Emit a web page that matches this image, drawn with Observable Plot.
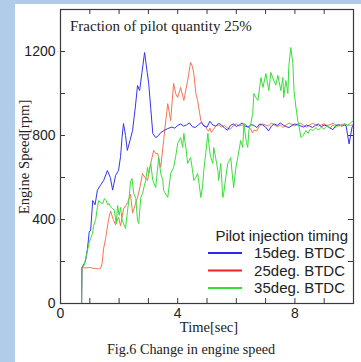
<!DOCTYPE html>
<html>
<head>
<meta charset="utf-8">
<script src="https://cdn.jsdelivr.net/npm/d3@7"></script>
<script src="https://cdn.jsdelivr.net/npm/@observablehq/plot@0.6"></script>
<style>
  html, body { margin: 0; padding: 0; }
  body { width: 361px; height: 362px; background: #b0cce8; overflow: hidden; position: relative; }
  #chart { position: absolute; left: 15px; top: 4px; width: 346px; height: 358px; background: #fff; }
  #chart svg { display: block; }
</style>
</head>
<body>
<div id="chart"></div>
<script>
// ---------- data ----------
const seriesNames = ["15deg. BTDC", "25deg. BTDC", "35deg. BTDC"];
const title = "Fraction of pilot quantity 25%";
const yTitle = "Engine Speed[rpm]";
const xTitle = "Time[sec]";
const caption = "Fig.6 Change in engine speed";
const legendTitle = "Pilot injection timing";
const xTickLabels = [0, 4, 8];
const xTickMarks = [0, 1, 2, 3, 4, 5, 6, 7, 8, 9, 10];
const yTickLabels = [0, 400, 800, 1200];
const yTickMarks = [0, 200, 400, 600, 800, 1000, 1200, 1400];

const blueT = [0,0.72,0.73,0.85,0.92,0.98,1.03,1.1,1.18,1.26,1.35,1.47,1.6,1.7,1.78,1.88,1.98,2.05,2.1,2.15,2.22,2.28,2.38,2.46,2.55,2.63,2.7,2.78,2.87,2.96,3.01,3.08,3.15,3.25,3.35,3.42,3.55,3.66,3.8,3.9,4.0,
  4.1,4.2,4.3,4.4,4.5,4.6,4.7,4.8,4.9,5.0,5.1,5.2,5.3,5.4,5.5,5.6,5.7,5.8,5.9,6.0,6.1,6.2,6.3,6.4,6.5,6.6,6.7,6.8,6.9,7.0,7.1,7.2,7.3,7.4,7.5,7.6,7.7,7.8,7.9,8.0,8.1,8.2,8.3,8.4,8.5,8.6,8.7,8.8,8.9,9.0,9.1,9.2,9.3,9.4,9.5,9.6,9.7,9.75,9.8,9.85,9.9,9.95,10];
const blueRpm = [0,0,170,200,260,340,350,490,470,540,560,585,633,600,540,610,633,700,790,857,800,729,780,824,930,1038,1014,1100,1195,1100,1048,930,810,790,800,814,825,833,840,835,848,
  855,845,850,860,842,838,850,862,845,840,868,850,845,858,850,835,825,848,855,843,850,860,845,840,852,848,838,855,850,840,822,845,855,848,860,850,842,838,848,855,850,845,840,850,845,838,848,855,842,850,845,835,828,848,852,845,850,845,800,760,800,840,850];

const redT = [0,0.72,0.73,0.9,1.0,1.1,1.2,1.3,1.37,1.42,1.47,1.54,1.64,1.71,1.8,1.88,1.98,2.05,2.15,2.29,2.39,2.46,2.55,2.63,2.72,2.8,2.88,2.97,3.08,3.18,3.25,3.32,3.42,3.52,3.6,3.66,3.76,3.86,3.93,4.0,4.1,4.21,4.34,4.44,4.5,4.55,4.62,4.68,4.79,4.89,
  4.95,5.0,5.05,5.1,5.15,5.2,5.3,5.4,5.5,5.6,5.7,5.8,5.9,6.0,6.1,6.2,6.3,6.4,6.5,6.55,6.6,6.7,6.8,6.9,7.0,7.1,7.2,7.3,7.4,7.5,7.6,7.7,7.8,7.9,8.0,8.1,8.2,8.3,8.4,8.5,8.6,8.7,8.8,8.9,9.0,9.1,9.2,9.3,9.4,9.5,9.6,9.7,9.8,9.9,10];
const redRpm = [0,0,170,170,172,168,166,165,168,190,260,310,400,440,400,375,410,370,450,480,520,430,470,505,560,619,600,586,667,729,714,714,648,776,880,952,871,1048,1000,981,1029,967,1062,1148,1130,1095,1000,967,871,848,
  845,830,820,835,815,825,845,850,840,848,835,830,848,855,845,850,855,840,830,812,825,822,848,855,850,845,860,850,842,850,838,850,860,852,845,855,858,848,840,850,858,852,845,850,855,848,852,858,850,845,852,855,850,848,852];

const greenT = [0,0.72,0.73,0.8,0.87,0.92,0.98,1.03,1.09,1.13,1.2,1.26,1.3,1.37,1.44,1.5,1.56,1.61,1.66,1.71,1.78,1.84,1.9,1.95,2.0,2.05,2.1,2.15,2.22,2.28,2.34,2.39,2.44,2.5,2.57,2.63,2.67,2.74,2.8,2.86,2.91,2.97,3.01,3.08,3.15,3.25,3.35,3.42,3.49,3.52,3.6,3.66,3.76,3.86,3.93,4.0,4.1,4.17,4.21,4.28,4.34,4.44,4.5,4.55,4.62,4.68,4.74,4.79,4.85,4.89,4.96,5.03,5.06,5.12,5.2,5.23,5.3,5.37,5.4,5.47,5.54,5.57,5.64,5.71,5.81,5.86,5.91,5.98,6.05,6.15,6.22,6.26,6.33,6.39,6.43,6.5,6.56,6.6,6.67,6.74,6.84,6.91,7.01,7.11,7.18,7.28,7.35,7.42,7.52,7.59,7.62,7.69,7.76,7.79,7.86,7.93,7.97,8.03,8.1,8.21,8.28,8.38,8.45,8.52,8.62,8.72,8.8,8.9,9.0,9.1,9.2,9.3,9.4,9.5,9.6,9.7,9.8,9.9,10];
const greenRpm = [0,0,170,180,220,252,290,310,333,370,400,457,490,480,476,500,490,470,476,460,452,443,381,467,420,457,400,381,357,433,500,580,595,524,500,395,381,505,524,560,586,648,619,667,586,552,695,620,586,538,520,505,619,648,700,762,790,743,810,740,667,695,640,586,600,619,560,505,560,633,720,810,762,700,667,743,690,633,586,667,505,524,600,667,695,620,552,640,695,776,743,857,780,743,824,860,905,1000,980,967,1076,1029,1095,1014,1100,1062,1040,1086,1014,1076,981,1062,1000,1124,1219,1143,1014,940,871,790,800,824,810,830,824,838,825,840,830,845,835,850,838,852,845,855,848,860,871];

// ---------- build table ----------
function toRows(ts, vs, name) { return ts.map((t, i) => ({ t, rpm: vs[i], name })); }
const blueRows = toRows(blueT, blueRpm, seriesNames[0]);
const redRows = toRows(redT, redRpm, seriesNames[1]);
const greenRows = toRows(greenT, greenRpm, seriesNames[2]);

const W = 346, H = 358;
const mL = 45, mR = 8, mT = 5, mB = 59;
const pw = W - mL - mR, ph = H - mT - mB;
const tk = 5;
const axisColor = "#3a3a3a";
const sans = "'Liberation Sans', Arial, sans-serif";
const serif = "'Liberation Serif', 'Times New Roman', serif";

const chart = Plot.plot({
  width: W, height: H,
  marginLeft: mL, marginRight: mR, marginTop: mT, marginBottom: mB,
  style: { background: "white", fontFamily: sans, fontSize: "14px", color: "#222", overflow: "visible" },
  x: { domain: [0, 10] },
  y: { domain: [0, 1400] },
  marks: [
    Plot.axisX({ ticks: xTickLabels, tickFormat: d3.format("d"), tickSize: 0, tickPadding: 5, label: null, fontSize: 14, fill: "#222" }),
    Plot.axisY({ ticks: yTickLabels, tickFormat: d3.format("d"), tickSize: 0, tickPadding: 5, label: null, fontSize: 14, fill: "#222" }),
    Plot.tickX(xTickMarks, { x: d => d, insetTop: ph - tk, stroke: axisColor }),
    Plot.tickX(xTickMarks, { x: d => d, insetBottom: ph - tk, stroke: axisColor }),
    Plot.tickY(yTickMarks, { y: d => d, insetRight: pw - tk, stroke: axisColor }),
    Plot.tickY(yTickMarks, { y: d => d, insetLeft: pw - tk, stroke: axisColor }),
    Plot.line(redRows, { x: "t", y: "rpm", stroke: "#f47550", strokeWidth: 1 }),
    Plot.line(blueRows, { x: "t", y: "rpm", stroke: "#3434ee", strokeWidth: 1 }),
    Plot.line(greenRows, { x: "t", y: "rpm", stroke: "#3ade3a", strokeWidth: 1 }),
    Plot.frame({ stroke: axisColor, strokeWidth: 1.2 })
  ]
});
document.getElementById("chart").appendChild(chart);

// ---------- annotations ----------
const svg = d3.select(chart);
svg.append("text").attr("x", 55).attr("y", 27).attr("text-anchor", "start")
  .attr("font-family", serif).attr("font-size", 15).attr("fill", "#222").text(title);
svg.append("text").attr("transform", "translate(14,153) rotate(-90)").attr("text-anchor", "middle")
  .attr("font-family", serif).attr("font-size", 14.7).attr("fill", "#222").text(yTitle);
svg.append("text").attr("x", 194).attr("y", 328).attr("text-anchor", "middle")
  .attr("font-family", serif).attr("font-size", 14.5).attr("fill", "#222").text(xTitle);
svg.append("text").attr("x", 176).attr("y", 350).attr("text-anchor", "middle")
  .attr("font-family", serif).attr("font-size", 14.2).attr("fill", "#222").text(caption);

// legend
const legendColors = ["#2a2ae8", "#ee2020", "#33dd33"];
const lg = svg.append("g").attr("font-family", sans).attr("font-size", 15).attr("fill", "#222");
lg.append("text").attr("x", 333).attr("y", 232).attr("dy", "0.35em").attr("text-anchor", "end").text(legendTitle);
seriesNames.forEach((n, i) => {
  const y = 249 + i * 17.5;
  lg.append("line").attr("x1", 193).attr("x2", 227).attr("y1", y).attr("y2", y)
    .attr("stroke", legendColors[i]).attr("stroke-width", 2);
  lg.append("text").attr("x", 330).attr("y", y).attr("dy", "0.35em").attr("text-anchor", "end").text(n);
});
</script>
</body>
</html>
